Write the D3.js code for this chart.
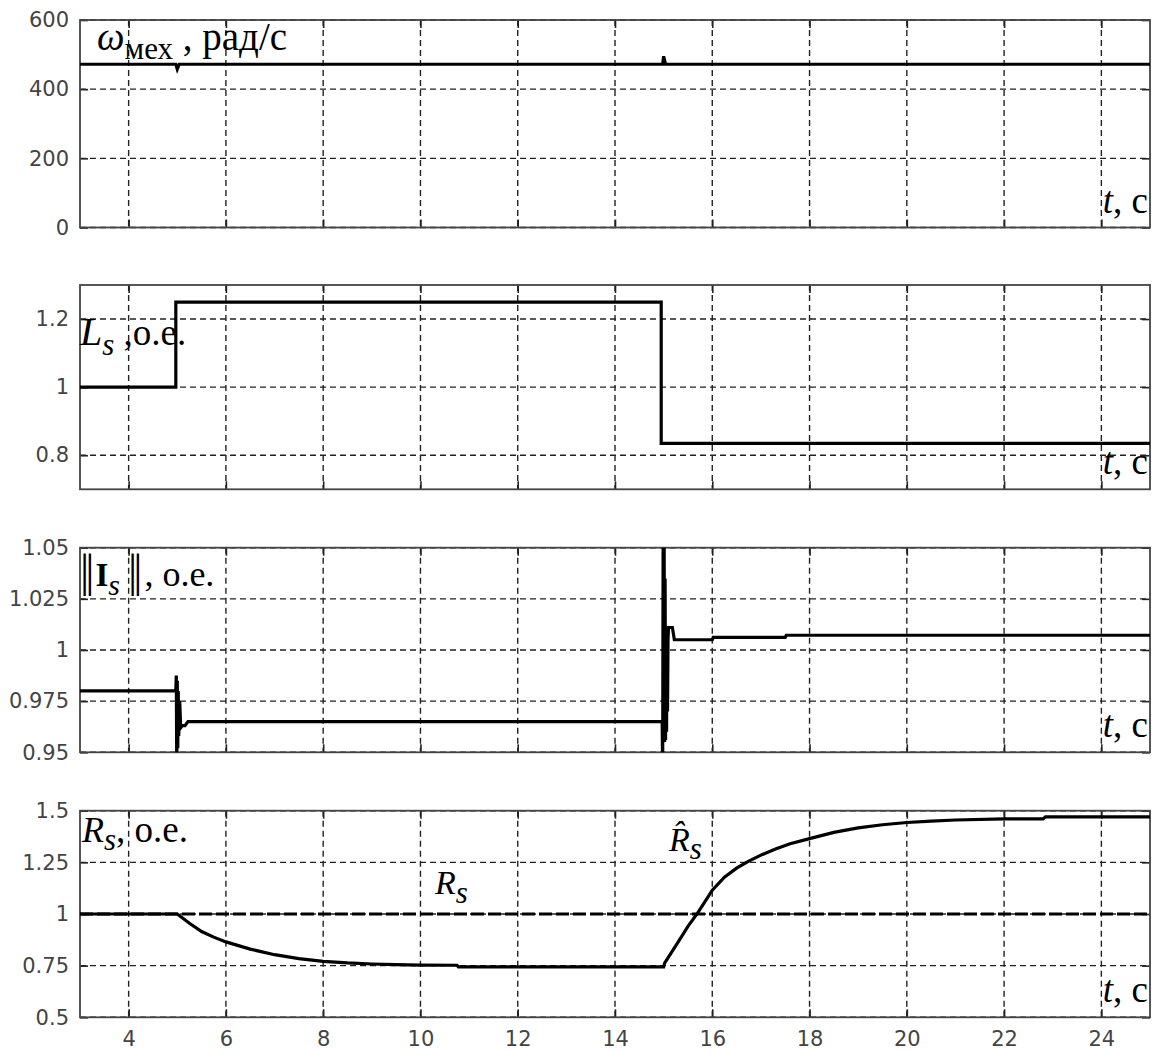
<!DOCTYPE html>
<html>
<head>
<meta charset="utf-8">
<script src="https://cdn.jsdelivr.net/npm/d3@7"></script>
<style>
  body { margin: 0; background: #fff; }
  .tick text { font-family: "DejaVu Sans", "Liberation Sans", Arial, sans-serif; font-size: 21px; fill: #444; }
  .lbl { font-family: "Liberation Serif", "Times New Roman", serif; fill: #000; }
</style>
</head>
<body>
<svg class="chart"></svg>
<script>
// time axis
var xTicks = [4, 6, 8, 10, 12, 14, 16, 18, 20, 22, 24];

// omega_mech, rad/s
var omegaT = [3, 4.97, 5.0, 5.04, 14.98, 15.0, 15.04, 25];
var omegaV = [472, 472, 458, 472, 472, 495, 472, 472];
var omegaTicks = [0, 200, 400, 600];

// L_s, p.u.
var lsT = [3, 4.97, 4.97, 14.95, 14.95, 25];
var lsV = [1, 1, 1.25, 1.25, 0.835, 0.835];
var lsTicks = [0.8, 1, 1.2];

// ||I_s||, p.u.
var isT = [3, 4.97, 4.98, 4.99, 5.0, 5.01, 5.02, 5.03, 5.05, 5.07, 5.1, 5.16, 5.22,
           14.96, 14.97, 14.98, 14.99, 15.0, 15.01, 15.02, 15.03, 15.04, 15.05, 15.06, 15.07, 15.08,
           15.09, 15.1, 15.12, 15.18, 15.22,
           16.0, 16.02, 17.5, 17.52, 25];
var isV = [0.98, 0.98, 0.9875, 0.94, 0.985, 0.952, 0.98, 0.958, 0.975, 0.962, 0.963, 0.963, 0.965,
           0.965, 0.965, 0.94, 1.06, 0.955, 1.06, 0.955, 1.035, 0.956, 1.01, 0.96, 1.008, 0.97,
           1.005, 1.011, 1.011, 1.011, 1.005,
           1.005, 1.0062, 1.0062, 1.0072, 1.0072];
var isTicks = [0.95, 0.975, 1, 1.025, 1.05];

// R_s estimate and true R_s, p.u.
var rhatT = [3, 5, 5.25, 5.5, 5.75, 6, 6.5, 7, 7.5, 8, 8.5, 9, 9.5, 10, 10.75, 10.78,
             15, 15.02, 15.3, 15.5, 15.7, 15.85, 16, 16.25, 16.5, 16.75, 17, 17.3, 17.6, 18,
             18.5, 19, 19.5, 20, 20.5, 21, 22, 22.8, 22.85, 25];
var rhatV = [1, 1, 0.955, 0.915, 0.888, 0.865, 0.83, 0.803, 0.784, 0.771, 0.763, 0.758, 0.755, 0.753, 0.752, 0.744,
             0.744, 0.762, 0.865, 0.94, 1.005, 1.06, 1.115, 1.178, 1.222, 1.256, 1.285, 1.315, 1.34, 1.365,
             1.395, 1.417, 1.432, 1.443, 1.45, 1.455, 1.46, 1.46, 1.47, 1.47];
var rsT = [3, 25];
var rsV = [1, 1];
var rsTicks = [0.5, 0.75, 1, 1.25, 1.5];

var svg = d3.select(".chart")
    .attr("width", 1158)
    .attr("height", 1053);

var defs = svg.append("defs");

var x = d3.scaleLinear().domain([3, 25]).range([80, 1150]);

var panels = [
    {id: "p1", top: 20, bottom: 227.5, domain: [0, 600], ticks: omegaTicks,
     series: [{t: omegaT, v: omegaV}]},
    {id: "p2", top: 285, bottom: 489.3, domain: [0.7, 1.3], ticks: lsTicks,
     series: [{t: lsT, v: lsV}]},
    {id: "p3", top: 547.7, bottom: 752.3, domain: [0.95, 1.05], ticks: isTicks,
     series: [{t: isT, v: isV}]},
    {id: "p4", top: 810.7, bottom: 1017.3, domain: [0.5, 1.5], ticks: rsTicks,
     series: [{t: rsT, v: rsV, dash: "13,4"}, {t: rhatT, v: rhatV}]}
];

panels.forEach(function(p, i) {
    var y = d3.scaleLinear().domain(p.domain).range([p.bottom, p.top]);
    var g = svg.append("g").attr("class", "panel");

    defs.append("clipPath").attr("id", "clip-" + p.id)
        .append("rect")
        .attr("x", x.range()[0]).attr("y", p.top)
        .attr("width", x.range()[1] - x.range()[0])
        .attr("height", p.bottom - p.top);

    // grid
    var grid = g.append("g").attr("stroke", "#222").attr("stroke-width", 1.4)
        .attr("stroke-dasharray", "6,4");
    grid.selectAll(".vg").data(xTicks).enter().append("line")
        .attr("x1", function(d) { return x(d); }).attr("x2", function(d) { return x(d); })
        .attr("y1", p.top).attr("y2", p.bottom);
    grid.selectAll(".hg").data(p.ticks).enter().append("line")
        .attr("x1", x.range()[0]).attr("x2", x.range()[1])
        .attr("y1", function(d) { return y(d); }).attr("y2", function(d) { return y(d); });

    // axes, ticks inward
    var isLast = i === panels.length - 1;
    g.append("g").attr("transform", "translate(0," + p.bottom + ")")
        .call(d3.axisBottom(x).tickValues(xTicks).tickSize(-8).tickPadding(14)
            .tickFormat(isLast ? function(d) { return d; } : function() { return ""; }));
    g.append("g").attr("transform", "translate(0," + p.top + ")")
        .call(d3.axisTop(x).tickValues(xTicks).tickSize(-8).tickFormat(""));
    g.append("g").attr("transform", "translate(" + x.range()[0] + ",0)")
        .call(d3.axisLeft(y).tickValues(p.ticks).tickSize(-8).tickPadding(11)
            .tickFormat(function(d) { return String(d); }));
    g.append("g").attr("transform", "translate(" + x.range()[1] + ",0)")
        .call(d3.axisRight(y).tickValues(p.ticks).tickSize(-8).tickFormat(""));
    g.selectAll(".domain").remove();
    g.selectAll(".tick line").attr("stroke", "#222").attr("stroke-width", 1.6);

    // frame
    g.append("rect")
        .attr("x", x.range()[0]).attr("y", p.top)
        .attr("width", x.range()[1] - x.range()[0])
        .attr("height", p.bottom - p.top)
        .attr("fill", "none").attr("stroke", "#444").attr("stroke-width", 1.8);

    // data
    var line = d3.line()
        .x(function(d) { return x(d[0]); })
        .y(function(d) { return y(d[1]); });
    p.series.forEach(function(s) {
        g.append("path")
            .datum(s.t.map(function(t, k) { return [t, s.v[k]]; }))
            .attr("clip-path", "url(#clip-" + p.id + ")")
            .attr("fill", "none").attr("stroke", "#000")
            .attr("stroke-width", 3.2)
            .attr("stroke-linejoin", "miter")
            .attr("stroke-dasharray", s.dash || null)
            .attr("d", line);
    });

    // t, c
    g.append("text").attr("class", "lbl")
        .attr("x", 1148).attr("y", p.bottom - 15)
        .attr("text-anchor", "end").attr("font-size", 37)
        .call(function(t) {
            t.append("tspan").attr("font-style", "italic").text("t");
            t.append("tspan").text(", с");
        });
});

// panel titles
var t1 = svg.append("text").attr("class", "lbl").attr("x", 97).attr("y", 50).attr("font-size", 39);
t1.append("tspan").attr("font-style", "italic").text("ω");
t1.append("tspan").attr("font-size", 31).attr("dy", 9).text("мех");
t1.append("tspan").attr("dy", -9).text(" , рад/с");

var t2 = svg.append("text").attr("class", "lbl").attr("x", 80).attr("y", 345).attr("font-size", 37);
t2.append("tspan").attr("font-style", "italic").attr("font-size", 40).text("L");
t2.append("tspan").attr("font-style", "italic").attr("font-size", 31).attr("dy", 10).text("s");
t2.append("tspan").attr("dy", -10).text(" ,o.e.");

var t3 = svg.append("text").attr("class", "lbl").attr("x", 80).attr("y", 586).attr("font-size", 36);
t3.append("tspan").attr("font-size", 46).attr("letter-spacing", -4).text("||");
t3.append("tspan").attr("dx", 5).attr("font-weight", "bold").attr("font-size", 33).text("I");
t3.append("tspan").attr("font-style", "italic").attr("font-size", 30).attr("dy", 9).text("s");
t3.append("tspan").attr("dy", -9).attr("dx", 8).attr("font-size", 46).attr("letter-spacing", -4).text("||");
t3.append("tspan").attr("dx", 6).text(", o.e.");

var t4 = svg.append("text").attr("class", "lbl").attr("x", 82).attr("y", 842).attr("font-size", 37);
t4.append("tspan").attr("font-style", "italic").attr("font-size", 36).text("R");
t4.append("tspan").attr("font-style", "italic").attr("font-size", 31).attr("dy", 8).text("s");
t4.append("tspan").attr("dy", -8).text(", o.e.");

var t5 = svg.append("text").attr("class", "lbl").attr("x", 435).attr("y", 894).attr("font-size", 34);
t5.append("tspan").attr("font-style", "italic").text("R");
t5.append("tspan").attr("font-style", "italic").attr("font-size", 31).attr("dy", 9).text("s");

var t6 = svg.append("text").attr("class", "lbl").attr("x", 669).attr("y", 851).attr("font-size", 34);
t6.append("tspan").attr("font-style", "italic").text("R\u0302");
t6.append("tspan").attr("font-style", "italic").attr("font-size", 31).attr("dy", 8).text("s");
</script>
</body>
</html>
